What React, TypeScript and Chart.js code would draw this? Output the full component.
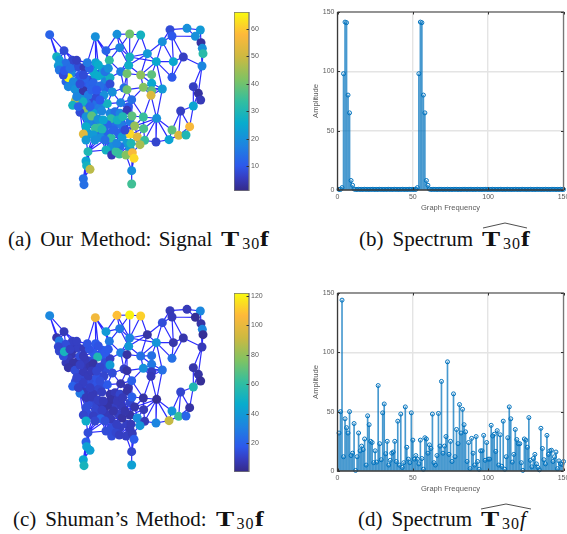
import React, { useEffect, useRef } from "react";
import { Chart, registerables } from "chart.js";
Chart.register(...registerables);

// ---------- data ----------
const nodeX = [59,196,261,299,332,420,471,511,426,496,397,513,517,519,102,228,269,352,299,460,80,430,379,516,88,127,140,107,85,197,238,162,296,88,190,218,124,272,291,332,365,115,100,203,240,426,165,130,190,240,365,490,115,135,160,210,247,282,291,340,397,365,505,363,175,200,512,136,305,232,272,128,490,159,291,452,160,150,190,215,168,185,204,243,262,278,306,340,380,168,232,196,216,314,341,426,479,160,190,212,243,276,300,322,446,468,344,378,417,168,303,330,228,174,245,258,268,288,307,312,168,170,180,305,160,162,305,103,150,178,225,150,185,222,210,180,140,205,235,200,160,120,172,220,250,225,260,285,195,145,
113,130,145,108,125,145,178,195,215,165,180,225,225,145,160,190,200,215,170,185,205,165,195,175,215,240,255,270,295,255,275,300,265,205,175,230,290,245,270,300];
const nodeY = [104,110,103,102,105,89,85,90,108,109,125,128,145,161,152,152,143,161,171,171,170,185,185,198,180,181,181,190,197,188,181,203,196,210,215,208,220,215,221,225,224,233,225,228,233,232,235,245,248,252,250,260,260,268,272,258,276,264,269,262,267,272,280,286,285,290,300,302,299,311,308,316,318,305,331,333,332,337,340,333,350,348,358,356,360,350,348,351,355,380,374,385,388,378,386,390,380,402,405,413,414,411,402,411,406,405,421,426,419,420,430,434,450,455,465,455,462,465,458,475,483,497,508,512,536,554,552,212,225,205,215,252,270,285,300,320,290,195,205,270,225,205,188,360,390,420,430,390,420,320,
200,205,200,245,258,240,240,225,225,255,255,245,265,285,290,300,310,315,310,330,325,340,365,370,370,340,335,340,320,375,375,365,400,400,400,400,430,440,440,445];
const signalA = [12,20,20,40,28,8,20,22,10,20,20,3,20,32,8,12,18,22,28,6,28,25,25,18,22,7,6,14,22,24,33,5,27,15,26,22,18,16,40,43,38,66,8,26,28,10,12,18,12,8,25,6,18,20,4,14,20,14,40,42,22,38,3,52,16,8,5,47,14,28,17,28,24,28,5,6,42,8,24,18,20,38,20,32,28,30,38,34,20,26,12,34,30,44,36,38,57,53,22,20,33,22,62,53,52,30,34,7,24,22,30,46,28,30,5,34,34,42,57,62,24,28,48,20,14,14,35,10,10,12,15,8,12,20,10,12,18,26,20,10,8,14,16,24,12,14,18,8,20,12,
14,12,8,12,18,12,8,24,26,10,12,18,12,20,20,8,14,20,15,22,16,24,16,18,34,18,14,18,10,14,16,16,12,14,22,12,22,20,14,22];
const signalC = [33,103,108,120,112,8,8,33,8,3,14,5,32,3,8,40,28,5,32,6,6,6,38,8,28,10,10,14,12,18,28,8,40,12,18,18,6,30,5,25,25,8,14,55,10,25,8,5,5,40,28,6,5,14,8,12,14,10,5,36,25,10,5,8,8,16,3,14,20,18,6,20,55,10,5,12,8,28,8,10,8,8,10,5,8,8,20,5,3,14,5,12,10,6,8,38,5,12,10,22,8,5,5,35,62,22,8,32,90,48,8,38,14,14,14,12,10,10,8,18,20,42,42,12,45,52,42,52,14,16,18,10,8,12,14,10,12,16,18,12,8,10,16,8,6,14,10,6,12,10,
10,8,10,8,8,6,12,16,18,8,6,14,14,10,12,14,16,14,14,8,12,10,12,14,8,6,8,12,6,10,8,12,10,12,14,8,10,14,10,8];
const edges: [number, number][] = [
[1,15],[1,21],[1,25],[2,16],[2,30],[2,143],[2,31],[2,138],[3,16],[3,17],[3,4],[3,19],[4,17],[4,19],[4,5],[5,19],[5,18],[6,7],[6,9],[6,11],[7,10],[7,8],[8,10],[8,12],[9,10],[9,11],[9,20],[9,22],[10,12],[12,13],[13,14],[14,24],[12,24],[13,24],[10,13],[11,18],[11,23],[11,22],[18,23],[22,23],[20,22],[20,24],[20,46],[22,46],[23,46],[23,61],[23,41],[23,19],[18,19],[18,33],[18,40],[23,40],[17,19],[16,17],[17,31],[17,33],[19,33],[33,38],[33,39],[33,40],[39,40],[40,41],[41,51],[40,51],[40,60],[51,60],[51,61],[60,61],[60,62],[61,62],[62,64],[61,64],[60,69],[60,64],[64,89],[61,89],[69,88],[69,87],[64,88],[88,89],[87,88],[75,87],[71,75],[69,71],[69,75],[24,52],[24,63],[52,63],[52,67],[63,67],[63,73],[67,73],[52,73],[73,76],[73,97],[76,97],[76,96],[76,105],[96,105],[105,106],[97,106],[97,105],[89,96],[96,109],[105,109],[89,109],[89,108],[89,107],[89,95],[89,94],[88,95],[87,94],[94,95],[95,107],[107,108],[108,109],[107,112],[104,107],[104,112],[103,104],[103,111],[111,112],[111,119],[112,119],[118,119],[119,120],[118,120],[120,124],[118,124],[119,124],[124,127],[117,118],[116,117],[115,116],[113,115],[113,116],[101,113],[100,113],[102,111],[102,103],[101,102],
[15,21],[15,25],[15,26],[15,27],[15,28],[21,25],[21,29],[25,28],[25,29],[28,29],[28,34],[29,34],[34,43],[34,128],[128,43],[128,142],[128,37],[42,43],[43,53],[42,53],[42,48],[37,42],[37,142],[28,142],[26,142],[32,142],[26,27],[26,32],[27,32],[27,143],[32,143],[30,143],[130,143],[32,130],[35,130],[130,138],[30,138],[36,138],[30,36],[30,35],[35,36],[35,44],[36,44],[36,131],[36,139],[31,139],[131,139],[16,139],[16,31],
[47,141],[47,129],[37,47],[47,48],[47,132],[32,141],[129,141],[130,141],[35,141],[37,129],[32,129],[48,53],[48,54],[48,132],[53,54],[54,137],[54,55],[54,68],[68,137],[72,137],[65,137],[74,137],[55,132],[55,65],[55,133],[49,132],[49,56],[44,49],[47,49],[35,49],[56,140],[56,133],[56,131],[133,140],[65,133],[66,133],[133,135],[134,140],[66,140],[66,134],[66,135],[65,66],[65,74],[65,136],[57,134],[70,134],[70,135],[80,135],[135,136],[74,136],[79,136],[82,136],[136,150],[74,150],[72,150],[78,150],[77,150],[72,78],[68,72],[68,74],[74,77],[77,78],[77,82],[78,81],[81,82],[79,82],[79,80],[70,80],[80,83],[79,83],[83,84],
[44,131],[44,45],[45,131],[45,50],[50,57],[38,45],[50,131],[50,56],[57,58],[57,71],[57,70],[58,59],[38,58],[39,58],[39,59],[59,60],[59,69],[59,71],[38,39],[31,38],[38,19],[70,71],[70,84],[75,84],[75,85],[75,86],[84,85],[85,86],[86,87],
[81,90],[82,90],[83,90],[83,144],[91,144],[93,144],[84,144],[90,92],[90,98],[90,99],[92,93],[92,99],[91,93],[93,100],[93,101],[91,145],[85,91],[86,145],[94,145],[101,145],[102,145],[145,148],[94,148],[102,148],[103,148],[94,103],[94,104],[95,104],[95,103],[86,148],[86,94],[85,145],[98,99],[98,110],[99,110],[99,149],[100,149],[110,149],[114,149],[100,146],[100,101],[101,146],[113,146],[114,146],[101,147],[102,147],[111,147],[116,147],[115,147],[111,117],[111,118],
[113,114],[100,114],[114,121],[114,122],[114,123],[121,122],[121,123],[122,123],[121,125],[122,125],[122,126],[123,125],[125,126],[90,93],[92,144],[84,91],[81,144],[92,144],[146,147],[93,146],[99,100],[85,144],[86,91],[75,145],[87,148],[87,103],[88,94],[71,84],[69,87],[134,57],[66,70],[58,38],[45,139],[131,35],[129,48],[42,129],[53,137],[72,54],[133,134],[79,144],[82,83],[98,81],[98,78],[78,90],[110,114],[99,114],[92,100],[91,102],[85,102],[86,103],[94,102],[102,104],[112,103],[111,104],[117,111],[115,146],[113,147],
[28,151],[34,151],[142,151],[151,152],[142,152],[26,152],[152,153],[153,32],[37,152],[37,153],[153,129],[43,154],[53,154],[42,154],[154,155],[48,155],[53,155],[54,155],[155,156],[48,156],[129,156],[47,156],[132,156],[47,157],[141,157],[157,158],[35,158],[44,158],[157,49],[49,161],[161,160],[160,132],[160,55],[160,47],[161,133],[161,56],[158,159],[36,159],[131,159],[44,159],[159,162],[45,162],[50,162],[56,162],[162,163],[50,163],[57,163],[134,163],[56,163],
[137,164],[54,164],[68,164],[164,165],[55,165],[65,165],[74,165],[165,169],[74,169],[136,169],[169,166],[66,166],[135,166],[166,167],[135,167],[167,168],[70,168],[135,168],[168,171],[167,171],[136,171],[171,170],[136,170],[170,172],[79,170],[172,77],[172,82],[172,81],[82,170],[171,80],[80,168],[70,176],[176,177],[177,178],[178,179],[71,179],[75,178],[177,84],[176,84],[176,80],[85,177],[86,178],[179,87],[179,69],[83,173],[173,174],[81,174],[90,174],[174,92],[173,92],[173,175],[93,175],[91,175],[144,175],[84,175],[91,180],[85,180],[180,181],[86,181],[181,182],[87,182],[94,182],[181,148],[180,145],[180,183],[183,102],[145,183],[183,147],[92,184],[184,100],[93,184],[184,186],[186,101],[91,186],[145,186],[99,185],[98,185],[90,185],[185,149],[148,182],[102,187],[111,187],[187,118],[187,190],[190,119],[190,111],[190,118],[147,189],[189,117],[189,116],[189,187],[147,188],[188,113],[188,116],[188,115],[188,101],[146,188]
];

const freq = [1,2,3,4,5,6,7,8,9,10,11,12,13,14,15,16,17,18,19,20,21,22,23,24,25,26,27,28,29,30,31,32,33,34,35,36,37,38,39,40,41,42,43,44,45,46,47,48,49,50,51,52,53,54,55,56,57,58,59,60,61,62,63,64,65,66,67,68,69,70,71,72,73,74,75,76,77,78,79,80,81,82,83,84,85,86,87,88,89,90,91,92,93,94,95,96,97,98,99,100,101,102,103,104,105,106,107,108,109,110,111,112,113,114,115,116,117,118,119,120,121,122,123,124,125,126,127,128,129,130,131,132,133,134,135,136,137,138,139,140,141,142,143,144,145,146,147,148,149,150];
const spectrumA = [0.5,0.5,2,98,141.5,141,80,65,8,4,0.8,0.5,0.5,0.6,0.5,0.5,0.5,0.6,0.5,0.5,0.5,0.5,0.6,0.5,0.5,0.5,0.5,0.6,0.5,0.5,0.5,0.5,0.5,0.6,0.5,0.5,0.5,0.6,0.5,0.5,0.5,0.5,0.6,0.5,0.5,0.5,0.5,0.6,0.5,0.5,0.5,0.5,2,98,141.5,141,80,65,8,4,0.8,0.5,0.5,0.6,0.5,0.5,0.5,0.6,0.5,0.5,0.5,0.5,0.6,0.5,0.5,0.5,0.5,0.6,0.5,0.5,0.5,0.5,0.5,0.6,0.5,0.5,0.5,0.6,0.5,0.5,0.5,0.5,0.6,0.5,0.5,0.5,0.5,0.6,0.5,0.5,0.5,0.5,0.6,0.5,0.5,0.5,0.5,0.6,0.5,0.5,0.5,0.5,0.6,0.5,0.5,0.5,0.5,0.6,0.5,0.5,0.5,0.5,0.6,0.5,0.5,0.5,0.5,0.6,0.5,0.5,0.5,0.5,0.6,0.5,0.5,0.5,0.5,0.6,0.5,0.5,0.5,0.5,0.6,0.5,0.5,0.5,0.5,0.6,0.5,0.5,0.5,0.5];
const spectrumC = [32,50,144,12,44,36.5,32,50,13,15,40,0.5,12,32,17,21,18,27,5,46.5,39,25,24,7,17,7.5,72,23,9.5,49,56.5,14.5,25,5,9,15,16,25,8,42,5,48,3,7,54,20,10,7,49,26,10,13,10,6,26,10.5,1.5,28,27,15,22,19,48,7,5,13,48.5,21,75.5,15,21,29,92,14,25,8,65,12,35,23,56,32,52,39,33,8,24,2,27.5,15,5,29,8,1.5,17,17,30,9,24,10,10,38.5,29.5,31,16.5,34,5,30.5,4,42,1.5,12,28,54,44,7.5,14,35,26.5,23,23,7,0.5,27,26,20,45,9,3.5,10.5,14,6,3,1,36,19,9.5,6,30,14,17,17.5,8,12,16,2,8.5,6,5.5,8];
const freqTicks = [0, 50, 100, 150];
const ampTicks = [0, 50, 100, 150];
const barATicks = [10, 20, 30, 40, 50, 60];
const barCTicks = [20, 40, 60, 80, 100, 120];

// ---------- styles ----------
const parula: [number, number[]][] = [
  [0, [53, 42, 135]], [0.07, [54, 60, 190]], [0.14, [45, 88, 235]], [0.25, [30, 130, 225]],
  [0.38, [8, 172, 205]], [0.5, [50, 190, 160]], [0.62, [125, 195, 100]], [0.75, [205, 185, 65]],
  [0.875, [254, 185, 58]], [1, [249, 251, 14]],
];
function colorAt(t: number) {
  const v = Math.max(0, Math.min(1, t));
  for (let i = 1; i < parula.length; i++) {
    if (v <= parula[i][0]) {
      const [t0, c0] = parula[i - 1];
      const [t1, c1] = parula[i];
      const f = (v - t0) / (t1 - t0);
      return `rgb(${c0.map((c, k) => Math.round(c + (c1[k] - c) * f)).join(",")})`;
    }
  }
  return "rgb(249,251,14)";
}
const AXIS_FONT = "'Liberation Sans', Arial, sans-serif";
const TEXT = "#5a5a5a";
// the later-listed nodes sit underneath the earlier ones
const drawOrder = nodeX.map((_, i) => i).sort((a, b) => (b >= 150 ? 1 : 0) - (a >= 150 ? 1 : 0) || a - b);

const boxPlugin = {
  id: "box",
  afterDatasetsDraw(chart: any) {
    const { ctx, chartArea: a, scales } = chart;
    const hasX = scales.x?.options.display;
    ctx.save();
    ctx.lineWidth = 1.3;
    ctx.strokeStyle = "#777";
    ctx.beginPath();
    ctx.moveTo(a.left, a.top); ctx.lineTo(a.right, a.top); ctx.lineTo(a.right, a.bottom);
    if (!hasX) { ctx.lineTo(a.left, a.bottom); ctx.lineTo(a.left, a.top); }
    ctx.stroke();
    if (hasX) {
      ctx.strokeStyle = "#3a3a3a";
      ctx.beginPath();
      ctx.moveTo(a.left, a.top); ctx.lineTo(a.left, a.bottom); ctx.lineTo(a.right, a.bottom);
      ctx.stroke();
    }
    ctx.lineWidth = 1;
    ctx.strokeStyle = "#333";
    scales.x?.ticks.forEach((t: any) => {
      if (!hasX) return;
      const p = Math.round(scales.x.getPixelForValue(t.value)) + 0.5;
      ctx.beginPath();
      ctx.moveTo(p, a.bottom); ctx.lineTo(p, a.bottom - 2.5);
      ctx.moveTo(p, a.top); ctx.lineTo(p, a.top + 2.5);
      ctx.stroke();
    });
    scales.y?.ticks.forEach((t: any) => {
      const p = Math.round(scales.y.getPixelForValue(t.value)) + 0.5;
      ctx.beginPath();
      ctx.moveTo(a.right, p); ctx.lineTo(a.right - 2.5, p);
      if (hasX) { ctx.moveTo(a.left, p); ctx.lineTo(a.left + 2.5, p); }
      ctx.stroke();
    });
    ctx.restore();
  },
};

function useChart(make: (c: HTMLCanvasElement) => Chart) {
  const ref = useRef<HTMLCanvasElement | null>(null);
  useEffect(() => {
    const chart = make(ref.current!);
    return () => chart.destroy();
  }, []);
  return ref;
}

function Stem({ top, values }: { top: number; values: number[] }) {
  const ref = useChart((c) => new Chart(c, {
    type: "bar",
    data: {
      datasets: [
        {
          type: "scatter",
          data: freq.map((x, i) => ({ x, y: values[i] })),
          borderColor: "#0072BD",
          backgroundColor: "rgba(255,255,255,0)",
          borderWidth: 1,
          pointRadius: 2,
          showLine: false,
          clip: false,
        } as any,
        {
          type: "bar",
          data: freq.map((x, i) => ({ x, y: values[i] })),
          backgroundColor: "rgba(0,114,189,0.72)",
          barThickness: 1,
        } as any,
      ],
    },
    options: {
      responsive: false,
      animation: false,
      layout: { autoPadding: false, padding: { top: 12, right: 3.5, left: 0, bottom: 0 } },
      plugins: { legend: { display: false }, tooltip: { enabled: false } },
      scales: {
        x: {
          type: "linear", min: 0, max: 150, offset: false,
          afterBuildTicks(s: any) { s.ticks = freqTicks.map((value) => ({ value })); },
          afterFit(s: any) { s.height = 22; s.paddingLeft = 0; s.paddingRight = 0; },
          grid: { color: "#e4e4e4", lineWidth: 1.4, drawTicks: false, offset: false },
          border: { display: false },
          ticks: { color: TEXT, font: { family: AXIS_FONT, size: 7 }, padding: 3, maxRotation: 0, autoSkip: false },
          title: { display: true, text: "Graph Frequency", color: TEXT, font: { family: AXIS_FONT, size: 7.6 }, padding: { top: 1, bottom: 0 } },
        },
        y: {
          min: 0, max: 150,
          afterBuildTicks(s: any) { s.ticks = ampTicks.map((value) => ({ value })); },
          afterFit(s: any) { s.width = 27.5; s.paddingTop = 0; s.paddingBottom = 0; },
          grid: { color: "#e4e4e4", lineWidth: 1.4, drawTicks: false },
          border: { display: false },
          ticks: { color: TEXT, font: { family: AXIS_FONT, size: 7 }, padding: 3 },
          title: { display: true, text: "Amplitude", color: TEXT, font: { family: AXIS_FONT, size: 7.6 }, padding: { top: 1, bottom: 0 } },
        },
      },
    },
    plugins: [boxPlugin],
  } as any));
  return <canvas ref={ref} width={257} height={212} style={{ position: "absolute", left: 310, top, width: 257, height: 212 }} />;
}

function Graph({ top, values, vmin, vmax }: { top: number; values: number[]; vmin: number; vmax: number }) {
  const ref = useChart((c) => new Chart(c, {
    type: "scatter",
    data: {
      datasets: [
        {
          data: drawOrder.map((i) => ({ x: nodeX[i], y: nodeY[i] })),
          pointRadius: 4.5,
          pointBorderWidth: 0,
          pointBackgroundColor: drawOrder.map((i) => colorAt((values[i] - vmin) / (vmax - vmin))),
          showLine: false,
          order: 1,
        },
        {
          data: edges.flatMap(([a, b]) => [
            { x: nodeX[a - 1], y: nodeY[a - 1] },
            { x: nodeX[b - 1], y: nodeY[b - 1] },
            { x: NaN, y: NaN },
          ]),
          borderColor: "rgba(20,20,255,0.9)",
          borderWidth: 1.2,
          pointRadius: 0,
          showLine: true,
          spanGaps: false,
          tension: 0,
          order: 2,
        },
      ],
    },
    options: {
      responsive: false,
      animation: false,
      layout: { autoPadding: false },
      plugins: { legend: { display: false }, tooltip: { enabled: false } },
      scales: {
        x: { min: 0, max: 600, display: false },
        y: { min: 0, max: 600, reverse: true, display: false },
      },
    },
  } as any));
  return <canvas ref={ref} width={200} height={200} style={{ position: "absolute", left: 30, top, width: 200, height: 200 }} />;
}

function ColorBar({ top, height, min, max, ticks }: { top: number; height: number; min: number; max: number; ticks: number[] }) {
  const ref = useChart((c) => new Chart(c, {
    type: "bar",
    data: {
      labels: ["signal"],
      datasets: [{
        data: [[min, max]],
        barPercentage: 1,
        categoryPercentage: 1,
        backgroundColor(ctx: any) {
          const a = ctx.chart.chartArea;
          if (!a) return "#888";
          const g = ctx.chart.ctx.createLinearGradient(0, a.bottom, 0, a.top);
          parula.forEach(([t]) => g.addColorStop(t, colorAt(t)));
          return g;
        },
      }],
    },
    options: {
      responsive: false,
      animation: false,
      plugins: { legend: { display: false }, tooltip: { enabled: false } },
      layout: { autoPadding: false, padding: { left: 0, right: 0, top: 0, bottom: 0 } },
      scales: {
        x: { display: false },
        y: {
          position: "right", min, max,
          afterBuildTicks(s: any) { s.ticks = ticks.map((value) => ({ value })); },
          afterFit(s: any) { s.width = 22; s.paddingTop = 0; s.paddingBottom = 0; },
          grid: { display: false, drawTicks: false },
          border: { display: false },
          ticks: { color: TEXT, font: { family: AXIS_FONT, size: 7 }, padding: 2 },
        },
      },
    },
    plugins: [boxPlugin],
  } as any));
  return <canvas ref={ref} width={37} height={height} style={{ position: "absolute", left: 234, top, width: 37, height }} />;
}

const captionStyle: React.CSSProperties = {
  position: "absolute",
  fontFamily: "'Liberation Serif', 'Times New Roman', serif",
  fontSize: 21,
  lineHeight: "24px",
  color: "#111",
  whiteSpace: "nowrap",
};

function Caption({ left, base, label, body, fn, italic }: { left: number; base: number; label: string; body: string; fn: string; italic?: boolean }) {
  return (
    <div style={{ ...captionStyle, left, top: base - 19 }}>
      <span style={{ marginRight: 9 }}>{label}</span>
      <span style={{ marginRight: 9, wordSpacing: 2 }}>{body}</span>
      <b style={{ display: "inline-block", width: 19, transform: "scaleX(1.3)", transformOrigin: "left" }}>T</b>
      <span style={{ fontSize: 16, letterSpacing: 1, position: "relative", top: 3, marginLeft: 2 }}>30</span>
      {italic ? <i>{fn}</i> : <b style={{ display: "inline-block", transform: "scaleX(1.25)", transformOrigin: "left" }}>{fn}</b>}
    </div>
  );
}

function Hat({ x0, x1, y }: { x0: number; x1: number; y: number }) {
  return (
    <svg style={{ position: "absolute", left: 0, top: 0 }} width={567} height={534}>
      <polyline points={`${x0},${y + 5} ${(x0 + x1) / 2},${y} ${x1},${y + 5}`} fill="none" stroke="#222" strokeWidth={0.8} />
    </svg>
  );
}

export default function App() {
  return (
    <div style={{ position: "absolute", left: 0, top: 0, width: 567, height: 534, overflow: "hidden", background: "#fff" }}>
      <Graph top={0} values={signalA} vmin={0.9} vmax={66.2} />
      <ColorBar top={12} height={179} min={0.9} max={66.2} ticks={barATicks} />
      <Stem top={0} values={spectrumA} />
      <Graph top={281} values={signalC} vmin={0.5} vmax={121.8} />
      <ColorBar top={293} height={179} min={0.5} max={121.8} ticks={barCTicks} />
      <Stem top={281} values={spectrumC} />
      <Caption left={8} base={246} label="(a)" body="Our Method: Signal" fn="f" />
      <Caption left={359} base={246} label="(b)" body="Spectrum" fn="f" />
      <Caption left={13} base={526} label="(c)" body="Shuman’s Method:" fn="f" />
      <Caption left={358} base={526} label="(d)" body="Spectrum" fn="f" italic />
      <Hat x0={483} x1={527} y={223} />
      <Hat x0={481} x1={531} y={504} />
    </div>
  );
}
